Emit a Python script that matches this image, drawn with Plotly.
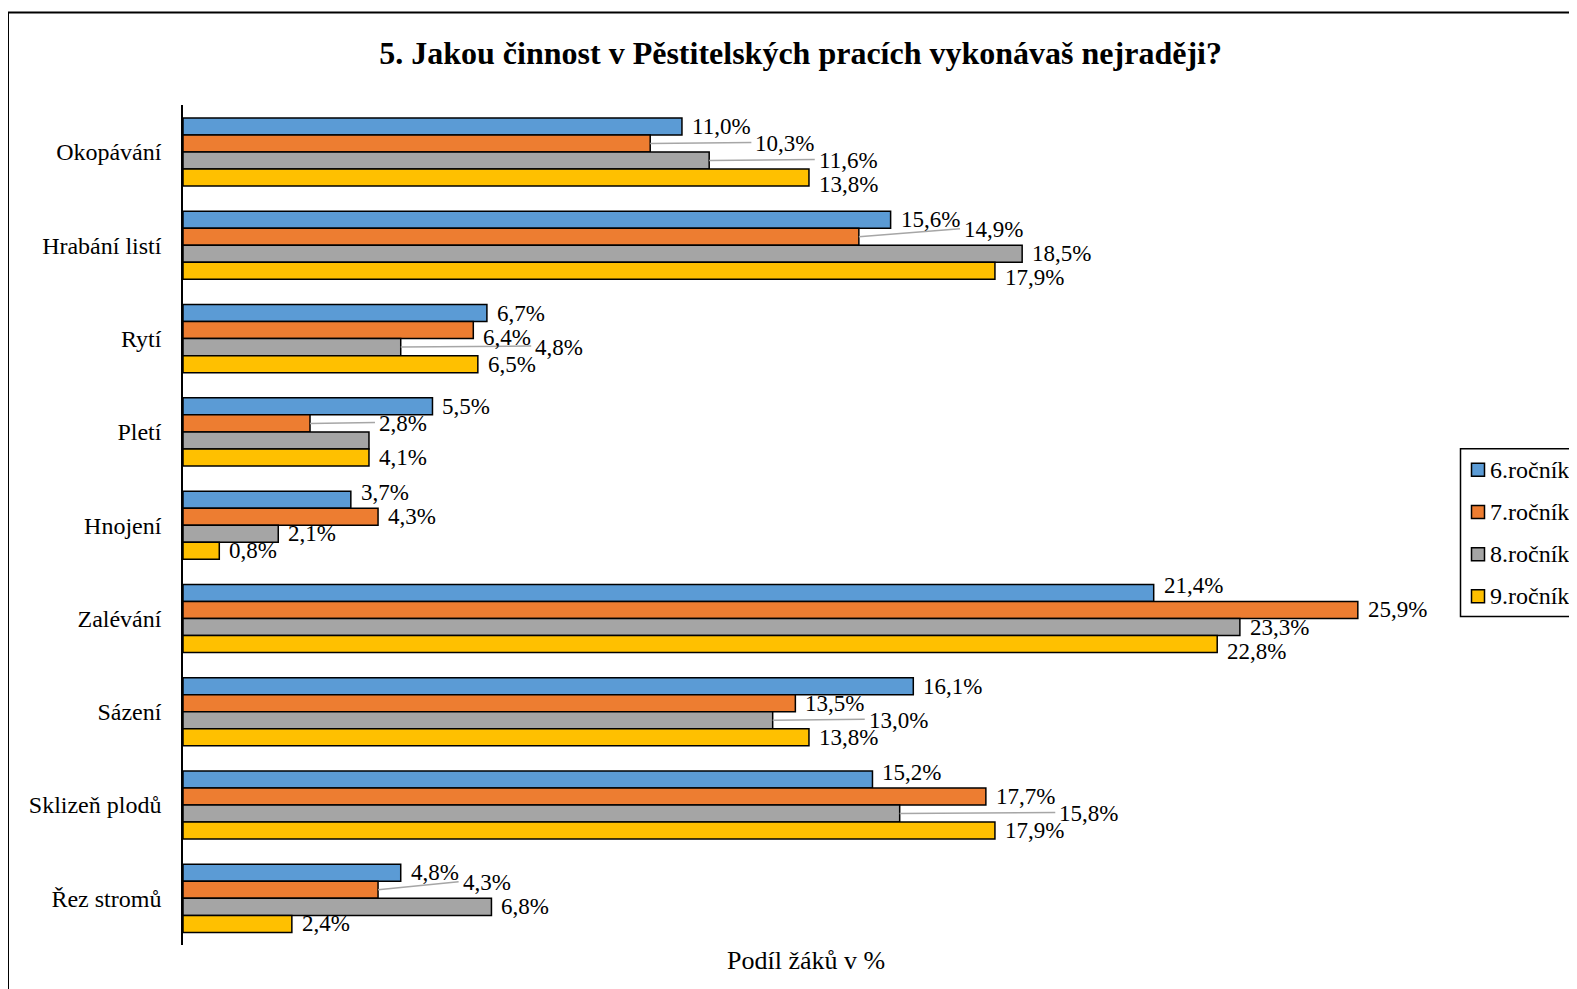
import plotly.graph_objects as go

categories = ["Okopávání", "Hrabání listí", "Rytí", "Pletí", "Hnojení",
              "Zalévání", "Sázení", "Sklizeň plodů", "Řez stromů"]
series_names = ["6.ročník", "7.ročník", "8.ročník", "9.ročník"]
v6 = [11.0, 15.6, 6.7, 5.5, 3.7, 21.4, 16.1, 15.2, 4.8]
v7 = [10.3, 14.9, 6.4, 2.8, 4.3, 25.9, 13.5, 17.7, 4.3]
v8 = [11.6, 18.5, 4.8, 4.1, 2.1, 23.3, 13.0, 15.8, 6.8]
v9 = [13.8, 17.9, 6.5, 4.1, 0.8, 22.8, 13.8, 17.9, 2.4]
# label shown? (8.ročník label for Pletí is hidden in the original)
show8 = [True, True, True, False, True, True, True, True, True]
colors = ["#5B9BD5", "#ED7D31", "#A5A5A5", "#FFC000"]

series = [v6, v7, v8, v9]
shows = [[True] * 9, [True] * 9, show8, [True] * 9]


def fmt(v):
    return f"{v:.1f}%".replace(".", ",")


FONT = "Liberation Serif"
LBL_SIZE = 23

# ---- geometry (page pixels; the page body has an 8px margin) ----
OFF = 8
W, H = 1569, 981
AX, TOP, BOT, RIGHT = 183.0, 104.6, 945.4, 1577.0
PPP = 45.36  # pixels per percent
L = AX - OFF
T = TOP - OFF
B = H - (BOT - OFF)
pw = RIGHT - AX
ph = BOT - TOP
XMAX = pw / PPP

BARGAP = 0.27
NS = len(series)
slot = (1 - BARGAP) / NS          # bar thickness in category units
band_px = ph / len(categories)
slot_px = slot * band_px


def px_x(px):
    return (px - AX) / pw


def px_y(py):
    return (BOT - py) / ph


fig = go.Figure()
for name, vals, col in zip(series_names, series, colors):
    fig.add_trace(go.Bar(
        y=categories, x=vals, orientation="h", name=name,
        marker=dict(color=col, line=dict(color="black", width=1.5)),
        showlegend=False,
    ))

# ---- data labels with collision avoidance (mimics Excel's label placement) ----
CW = {",": 0.25, "%": 0.833}


def text_w(s):
    return sum(CW.get(ch, 0.5) for ch in s) * LBL_SIZE


GAP = 8
TH = 24      # min vertical distance between overlapping labels
TV = 37
annotations = []
shapes = []
for ci, cat in enumerate(categories):
    placed = []
    bar_y = [(j - (NS - 1) / 2) * slot_px for j in range(NS)]
    bar_end = [series[j][ci] * PPP for j in range(NS)]
    for si in range(NS):
        if not shows[si][ci]:
            continue
        v = series[si][ci]
        txt = fmt(v)
        tw = text_w(txt)
        end_px = bar_end[si]
        left = end_px + GAP
        y = bar_y[si]

        def hit_label(lft, yy):
            for p in placed:
                pl, pr, py = p
                if abs(yy - py) < TH and lft + tw > pl + 10 and lft < pr - 10:
                    return p
            return None

        def hit_bars(lft, yy):
            res = []
            for j in range(NS):
                if j == si or bar_end[j] + 2 <= lft:
                    continue
                dy = bar_y[j] - yy
                if (dy > 0 and dy < 18) or (dy <= 0 and -dy < 15):
                    res.append(j)
            return res

        nudged = False
        for _ in range(30):
            p = hit_label(left, y)
            if p is not None:
                pl, pr, py = p
                if end_px > pl - TV and not hit_bars(left, py + TH):
                    y = py + TH
                else:
                    left = pr + 4
                continue
            hb = hit_bars(left, y)
            if hb:
                if not nudged and not hit_bars(left, y - 7) and hit_label(left, y - 7) is None:
                    y -= 7
                    nudged = True
                else:
                    left = max(bar_end[j] for j in hb) + GAP
                continue
            break
        placed.append((left, left + tw, y))
        annotations.append(dict(
            x=v, y=ci, xref="x", yref="y", text=txt, showarrow=False,
            xanchor="left", yanchor="middle", xshift=left - end_px,
            yshift=-y, font=dict(family=FONT, size=LBL_SIZE, color="black")))
        if left - (end_px + GAP) > 15:
            shapes.append(dict(
                type="line", xref="x", yref="y",
                x0=v, y0=ci + bar_y[si] / band_px,
                x1=(left - 2) / PPP, y1=ci + (y - 1) / band_px,
                line=dict(color="#A6A6A6", width=1.5)))

# ---- axis title ----
annotations.append(dict(
    text="Podíl žáků v %", xref="paper", yref="paper",
    x=px_x(805.6), y=px_y(960.5), xanchor="center", yanchor="middle",
    showarrow=False, font=dict(family=FONT, size=26, color="black")))

# ---- legend (drawn as a framed box) ----
LEG_X0, LEG_X1, LEG_Y0, LEG_Y1 = 1460.5, 1575.5, 448.6, 616.5
leg_rows = [469.7, 512.0, 554.2, 596.4]
shapes.append(dict(type="rect", xref="paper", yref="paper",
                   x0=px_x(LEG_X0), x1=px_x(LEG_X1), y0=px_y(LEG_Y1), y1=px_y(LEG_Y0),
                   line=dict(color="black", width=1.5), fillcolor="white"))
for name, col, yy in zip(series_names, colors, leg_rows):
    shapes.append(dict(type="rect", xref="paper", yref="paper",
                       x0=px_x(1471.5), x1=px_x(1484.5), y0=px_y(yy + 6.5), y1=px_y(yy - 6.5),
                       line=dict(color="black", width=1.5), fillcolor=col))
    annotations.append(dict(text=name, xref="paper", yref="paper",
                            x=px_x(1487.5), y=px_y(yy), xanchor="left", yanchor="middle",
                            showarrow=False,
                            font=dict(family=FONT, size=24, color="black")))

# ---- outer chart frame ----
shapes.append(dict(type="rect", xref="paper", yref="paper",
                   x0=px_x(8), x1=px_x(1600), y0=px_y(1000), y1=px_y(12),
                   line=dict(color="black", width=2), layer="below"))

fig.update_layout(
    width=W, height=H,
    margin=dict(l=L, r=0, t=T, b=B, autoexpand=False),
    paper_bgcolor="white", plot_bgcolor="white",
    barmode="group", bargap=BARGAP, bargroupgap=0,
    font=dict(family=FONT, color="black"),
    title=dict(text="<b>5. Jakou činnost v Pěstitelských pracích vykonávaš nejraději?</b>",
               x=(800.6 - OFF) / W, xanchor="center", y=1 - (52.3 - OFF) / H,
               yanchor="middle", font=dict(family=FONT, size=32, color="black")),
    xaxis=dict(range=[0, XMAX], showticklabels=False, showgrid=False,
               zeroline=False, showline=False, ticks=""),
    yaxis=dict(autorange="reversed", showline=True, linecolor="black", linewidth=1.5,
               ticks="", showgrid=False, tickfont=dict(family=FONT, size=24),
               ticklabelstandoff=15),
    showlegend=False,
    annotations=annotations,
    shapes=shapes,
)

fig.write_html("out.html")
